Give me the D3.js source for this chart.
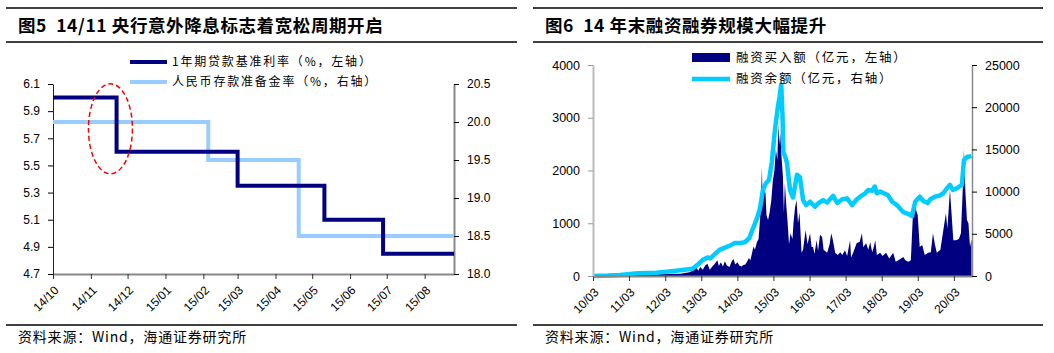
<!DOCTYPE html>
<html>
<head>
<meta charset="utf-8">
<script src="https://cdn.jsdelivr.net/npm/d3@7"></script>
<style>
  body { margin: 0; background: #fff; }
  .num { font-family: "Liberation Sans", Arial, sans-serif; font-size: 12px; fill: #000; }
  .cn { font-family: "Noto Sans CJK SC", sans-serif; fill: #000; white-space: pre; }
</style>
</head>
<body>
<script>
// ---------- 数据：图5 ----------
const rateDates = ["2014-10-01", "2014-11-22", "2015-03-01", "2015-05-11", "2015-06-28"];
const rateValues = [6.0, 5.6, 5.35, 5.1, 4.85];          // 1年期贷款基准利率
const rrrDates = ["2014-10-01", "2015-02-05", "2015-04-20"];
const rrrValues = [20.0, 19.5, 18.5];                      // 存款准备金率
const leftTicks5 = [4.7, 4.9, 5.1, 5.3, 5.5, 5.7, 5.9, 6.1];
const rightTicks5 = [18.0, 18.5, 19.0, 19.5, 20.0, 20.5];
const monthTicks5 = ["2014-10-01", "2014-11-01", "2014-12-01", "2015-01-01", "2015-02-01", "2015-03-01",
                     "2015-04-01", "2015-05-01", "2015-06-01", "2015-07-01", "2015-08-01"];

// ---------- 数据：图6 ----------
const buyAmount = [ // 融资买入额（亿元）
  ["2010-03-31", 0], ["2010-09-01", 8], ["2011-03-01", 20], ["2011-09-01", 25], ["2012-03-01", 40],
  ["2012-09-01", 45], ["2012-12-01", 70], ["2013-01-10", 110], ["2013-02-10", 150], ["2013-03-01", 100],
  ["2013-03-20", 170], ["2013-04-15", 120], ["2013-05-10", 200], ["2013-06-01", 230], ["2013-06-25", 120],
  ["2013-07-20", 180], ["2013-08-15", 230], ["2013-09-10", 300], ["2013-09-25", 190], ["2013-10-15", 260],
  ["2013-11-05", 180], ["2013-11-25", 280], ["2013-12-15", 200], ["2014-01-10", 170], ["2014-02-05", 290],
  ["2014-02-20", 320], ["2014-03-10", 220], ["2014-04-01", 260], ["2014-04-20", 200], ["2014-05-10", 180],
  ["2014-06-01", 210], ["2014-06-20", 220], ["2014-07-10", 280], ["2014-07-25", 340], ["2014-08-10", 300],
  ["2014-08-25", 420], ["2014-09-10", 560], ["2014-09-25", 500], ["2014-10-15", 640], ["2014-11-01", 700],
  ["2014-11-20", 1200], ["2014-12-05", 2050], ["2014-12-12", 1300], ["2014-12-25", 1650], ["2015-01-10", 1570],
  ["2015-01-20", 1150], ["2015-02-05", 1060], ["2015-02-20", 1200], ["2015-03-10", 1440], ["2015-03-25", 1800],
  ["2015-04-10", 2000], ["2015-04-25", 2400], ["2015-05-10", 2200], ["2015-05-20", 2900], ["2015-05-28", 2500],
  ["2015-06-08", 2710], ["2015-06-20", 2300], ["2015-07-05", 1880], ["2015-07-15", 1200], ["2015-07-25", 1760],
  ["2015-08-10", 1300], ["2015-08-20", 1060], ["2015-09-05", 600], ["2015-09-20", 810], ["2015-10-10", 700],
  ["2015-10-20", 1000], ["2015-11-05", 1300], ["2015-11-20", 1440], ["2015-12-05", 1000], ["2015-12-20", 1210],
  ["2016-01-10", 440], ["2016-01-25", 500], ["2016-02-20", 870], ["2016-03-10", 600], ["2016-04-05", 810],
  ["2016-04-20", 550], ["2016-05-05", 550], ["2016-05-20", 420], ["2016-06-10", 680], ["2016-06-25", 480],
  ["2016-07-15", 780], ["2016-08-05", 740], ["2016-08-20", 500], ["2016-09-25", 440], ["2016-10-20", 600],
  ["2016-11-05", 810], ["2016-11-20", 700], ["2016-12-15", 440], ["2017-01-10", 400], ["2017-02-05", 450],
  ["2017-02-25", 400], ["2017-03-25", 490], ["2017-04-15", 380], ["2017-05-15", 680], ["2017-05-25", 350],
  ["2017-06-15", 440], ["2017-07-20", 620], ["2017-08-20", 650], ["2017-09-12", 810], ["2017-09-25", 550],
  ["2017-10-25", 620], ["2017-11-15", 500], ["2017-12-05", 640], ["2017-12-25", 450], ["2018-01-10", 550],
  ["2018-01-25", 680], ["2018-02-10", 400], ["2018-03-15", 440], ["2018-04-10", 380], ["2018-05-15", 440],
  ["2018-06-15", 330], ["2018-07-25", 440], ["2018-08-20", 270], ["2018-09-15", 300], ["2018-11-05", 360],
  ["2018-11-25", 300], ["2018-12-25", 270], ["2019-01-20", 300], ["2019-02-10", 1160], ["2019-03-05", 1300],
  ["2019-03-30", 1160], ["2019-04-20", 550], ["2019-05-15", 590], ["2019-06-10", 400], ["2019-07-15", 440],
  ["2019-08-10", 450], ["2019-09-01", 810], ["2019-09-20", 600], ["2019-10-10", 440], ["2019-11-15", 500],
  ["2019-12-15", 870], ["2020-01-10", 1190], ["2020-01-25", 900], ["2020-02-20", 1630], ["2020-03-10", 1100],
  ["2020-03-25", 680], ["2020-04-20", 680], ["2020-05-20", 700], ["2020-06-10", 810], ["2020-07-01", 1760],
  ["2020-07-10", 2400], ["2020-07-25", 1600], ["2020-08-10", 1060], ["2020-08-25", 1000], ["2020-09-10", 550],
  ["2020-09-25", 700]
];
const balance = [ // 融资余额（亿元）
  ["2010-03-31", 0], ["2010-09-01", 50], ["2010-12-31", 130], ["2011-06-30", 330], ["2011-12-31", 380],
  ["2012-06-30", 600], ["2012-12-31", 850], ["2013-02-28", 1400], ["2013-04-15", 1900], ["2013-06-01", 2200],
  ["2013-07-01", 2100], ["2013-08-15", 2600], ["2013-10-01", 3100], ["2013-12-01", 3400], ["2014-01-15", 3600],
  ["2014-03-01", 3900], ["2014-05-01", 3900], ["2014-06-15", 4000], ["2014-07-31", 4500], ["2014-09-01", 5500],
  ["2014-10-15", 6800], ["2014-11-15", 8000], ["2014-12-15", 10200], ["2015-01-15", 11000], ["2015-02-15", 11400],
  ["2015-03-15", 13500], ["2015-04-15", 17300], ["2015-05-15", 20000], ["2015-06-01", 21200], ["2015-06-18", 22700],
  ["2015-07-01", 19000], ["2015-07-10", 14600], ["2015-07-25", 14300], ["2015-08-15", 13400], ["2015-09-15", 10200],
  ["2015-10-15", 9300], ["2015-11-25", 12000], ["2015-12-25", 11700], ["2016-01-25", 9000], ["2016-02-25", 8400],
  ["2016-04-05", 8800], ["2016-05-25", 8200], ["2016-06-25", 8600], ["2016-08-15", 9000], ["2016-09-25", 8700],
  ["2016-11-25", 9500], ["2017-01-05", 8650], ["2017-02-25", 9100], ["2017-04-15", 9200], ["2017-06-05", 8400],
  ["2017-07-15", 9000], ["2017-08-25", 9400], ["2017-10-15", 9800], ["2017-11-15", 10200], ["2017-12-25", 10100],
  ["2018-01-20", 10600], ["2018-02-10", 9800], ["2018-03-15", 10000], ["2018-06-01", 9600], ["2018-07-15", 8800],
  ["2018-09-01", 8400], ["2018-11-01", 7600], ["2018-12-15", 7400], ["2019-02-01", 7100], ["2019-03-05", 8800],
  ["2019-04-20", 9400], ["2019-05-25", 8900], ["2019-07-10", 8650], ["2019-08-05", 9100], ["2019-09-20", 9400],
  ["2019-11-01", 9500], ["2019-12-15", 9800], ["2020-01-20", 10400], ["2020-02-20", 10800], ["2020-03-20", 10200],
  ["2020-05-01", 10400], ["2020-06-20", 10800], ["2020-07-10", 13700], ["2020-08-10", 14100], ["2020-09-25", 14200]
];
const leftTicks6 = [0, 1000, 2000, 3000, 4000];
const rightTicks6 = [0, 5000, 10000, 15000, 20000, 25000];
const yearTicks6 = ["2010-03-31", "2011-03-31", "2012-03-31", "2013-03-31", "2014-03-31", "2015-03-31",
                    "2016-03-31", "2017-03-31", "2018-03-31", "2019-03-31", "2020-03-31"];

const parse = d3.timeParse("%Y-%m-%d");

const svg = d3.select("body").append("svg")
  .attr("width", 1054).attr("height", 353);

// 版式：标题、分隔线、来源
function frame(x0, x1, title) {
  svg.append("line").attr("x1", x0).attr("x2", x1).attr("y1", 8).attr("y2", 8)
    .attr("stroke", "#000").attr("stroke-width", 1.5);
  svg.append("line").attr("x1", x0).attr("x2", x1).attr("y1", 42).attr("y2", 42)
    .attr("stroke", "#000").attr("stroke-width", 1.5);
  svg.append("line").attr("x1", x0).attr("x2", x1).attr("y1", 325).attr("y2", 325)
    .attr("stroke", "#000").attr("stroke-width", 1.5);
  svg.append("text").attr("class", "cn").attr("x", x0 + 12).attr("y", 32)
    .style("font-size", "17.5px").style("font-weight", "bold").style("letter-spacing", "0.6px").text(title);
  svg.append("text").attr("class", "cn").attr("x", x0 + 12).attr("y", 342)
    .style("font-size", "14px").style("letter-spacing", "0.8px").text("资料来源：Wind，海通证券研究所");
}
frame(6, 517, "图5  14/11 央行意外降息标志着宽松周期开启");
frame(533, 1043, "图6  14 年末融资融券规模大幅提升");

function rotateLabels(g) {
  g.selectAll("text")
    .attr("class", "num")
    .attr("x", 0).attr("y", 0).attr("dy", "0.35em")
    .attr("text-anchor", "end")
    .attr("transform", "translate(3,14) rotate(-45)");
}

// ================= 图5 =================
const x5 = d3.scaleTime().domain([parse("2014-10-01"), parse("2015-08-25")]).range([53, 454]);
const y5L = d3.scaleLinear().domain([4.7, 6.1]).range([274, 84]);
const y5R = d3.scaleLinear().domain([18.0, 20.5]).range([274, 84]);

const g5 = svg.append("g");

g5.append("g").attr("transform", "translate(0,274)")
  .call(d3.axisBottom(x5).tickValues(monthTicks5.map(parse)).tickFormat(d3.timeFormat("%y/%m")).tickSize(5).tickSizeOuter(0))
  .call(g => g.select(".domain").attr("stroke", "#888").attr("stroke-width", 2))
  .call(g => g.selectAll(".tick line").attr("stroke", "#333"))
  .call(rotateLabels);

g5.append("g").attr("transform", "translate(53,0)")
  .call(d3.axisLeft(y5L).tickValues(leftTicks5).tickFormat(d3.format(".1f")).tickSize(5).tickPadding(8).tickSizeOuter(0))
  .call(g => g.select(".domain").attr("stroke", "#222"))
  .call(g => g.selectAll("text").attr("class", "num"));

g5.append("g").attr("transform", "translate(454,0)")
  .call(d3.axisRight(y5R).tickValues(rightTicks5).tickFormat(d3.format(".1f")).tickSize(5).tickPadding(8).tickSizeOuter(0))
  .call(g => g.select(".domain").attr("stroke", "#888").attr("stroke-width", 2))
  .call(g => g.selectAll("text").attr("class", "num"));

const endDate5 = x5.domain()[1];
const rateData = rateDates.map((d, i) => ({ date: parse(d), v: rateValues[i] }));
rateData.push({ date: endDate5, v: rateValues[rateValues.length - 1] });
const rrrData = rrrDates.map((d, i) => ({ date: parse(d), v: rrrValues[i] }));
rrrData.push({ date: endDate5, v: rrrValues[rrrValues.length - 1] });

g5.append("path").datum(rrrData)
  .attr("fill", "none").attr("stroke", "#99ccff").attr("stroke-width", 4)
  .attr("d", d3.line().curve(d3.curveStepAfter).x(d => x5(d.date)).y(d => y5R(d.v)));

g5.append("path").datum(rateData)
  .attr("fill", "none").attr("stroke", "#000080").attr("stroke-width", 4)
  .attr("d", d3.line().curve(d3.curveStepAfter).x(d => x5(d.date)).y(d => y5L(d.v)));

// 红色虚线椭圆标注 14/11 降息
g5.append("ellipse")
  .attr("cx", x5(parse("2014-11-17"))).attr("cy", y5L(5.77))
  .attr("rx", 22).attr("ry", 45)
  .attr("fill", "none").attr("stroke", "#ff0000").attr("stroke-width", 1.5)
  .attr("stroke-dasharray", "5,3");

// 图例
const leg5 = [
  { label: "1年期贷款基准利率（%，左轴）", color: "#000080", y: 62 },
  { label: "人民币存款准备金率（%，右轴）", color: "#99ccff", y: 82 }
];
leg5.forEach(d => {
  g5.append("line").attr("x1", 130).attr("x2", 167).attr("y1", d.y).attr("y2", d.y)
    .attr("stroke", d.color).attr("stroke-width", 4);
  g5.append("text").attr("class", "cn").attr("x", 172).attr("y", d.y).attr("dy", "0.35em")
    .style("font-size", "12px").style("letter-spacing", "1.8px").text(d.label);
});

// ================= 图6 =================
const x6 = d3.scaleTime().domain([parse("2010-03-31"), parse("2020-09-30")]).range([593, 972]);
const y6L = d3.scaleLinear().domain([0, 4000]).range([276, 65]);
const y6R = d3.scaleLinear().domain([0, 25000]).range([276, 65]);

const g6 = svg.append("g");

const buyData = buyAmount.map(([d, v]) => ({ date: parse(d), v }));
const balData = balance.map(([d, v]) => ({ date: parse(d), v }));

g6.append("path").datum(buyData)
  .attr("fill", "#000080")
  .attr("d", d3.area().x(d => x6(d.date)).y0(y6L(0)).y1(d => y6L(d.v)));

g6.append("path").datum(balData)
  .attr("fill", "none").attr("stroke", "#00ccff").attr("stroke-width", 4.5)
  .attr("stroke-linejoin", "round")
  .attr("d", d3.line().x(d => x6(d.date)).y(d => y6R(d.v)));

g6.append("g").attr("transform", "translate(0,276)")
  .call(d3.axisBottom(x6).tickValues(yearTicks6.map(parse)).tickFormat(d3.timeFormat("%y/%m")).tickSize(5).tickSizeOuter(0))
  .call(g => g.select(".domain").attr("stroke", "#888").attr("stroke-width", 2))
  .call(g => g.selectAll(".tick line").attr("stroke", "#333"))
  .call(rotateLabels);

g6.append("g").attr("transform", "translate(593,0)")
  .call(d3.axisLeft(y6L).tickValues(leftTicks6).tickFormat(d3.format("d")).tickSize(5).tickPadding(8).tickSizeOuter(0))
  .call(g => g.select(".domain").attr("stroke", "#bbb").attr("stroke-width", 2))
  .call(g => g.selectAll(".tick line").attr("stroke", "#999"))
  .call(g => g.selectAll("text").attr("class", "num").style("font-size", "12.5px"));

g6.append("g").attr("transform", "translate(972,0)")
  .call(d3.axisRight(y6R).tickValues(rightTicks6).tickFormat(d3.format("d")).tickSize(5).tickPadding(8).tickSizeOuter(0))
  .call(g => g.select(".domain").attr("stroke", "#888").attr("stroke-width", 1.5))
  .call(g => g.selectAll("text").attr("class", "num").style("font-size", "12.5px"));

// 图例
g6.append("rect").attr("x", 692).attr("y", 53).attr("width", 38).attr("height", 9).attr("fill", "#000080");
g6.append("text").attr("class", "cn").attr("x", 736).attr("y", 58).attr("dy", "0.35em")
  .style("font-size", "12.5px").style("letter-spacing", "1.8px").text("融资买入额（亿元，左轴）");
g6.append("line").attr("x1", 692).attr("x2", 730).attr("y1", 79).attr("y2", 79)
  .attr("stroke", "#00ccff").attr("stroke-width", 4.5);
g6.append("text").attr("class", "cn").attr("x", 736).attr("y", 79).attr("dy", "0.35em")
  .style("font-size", "12.5px").style("letter-spacing", "1.8px").text("融资余额（亿元，右轴）");
</script>
</body>
</html>
